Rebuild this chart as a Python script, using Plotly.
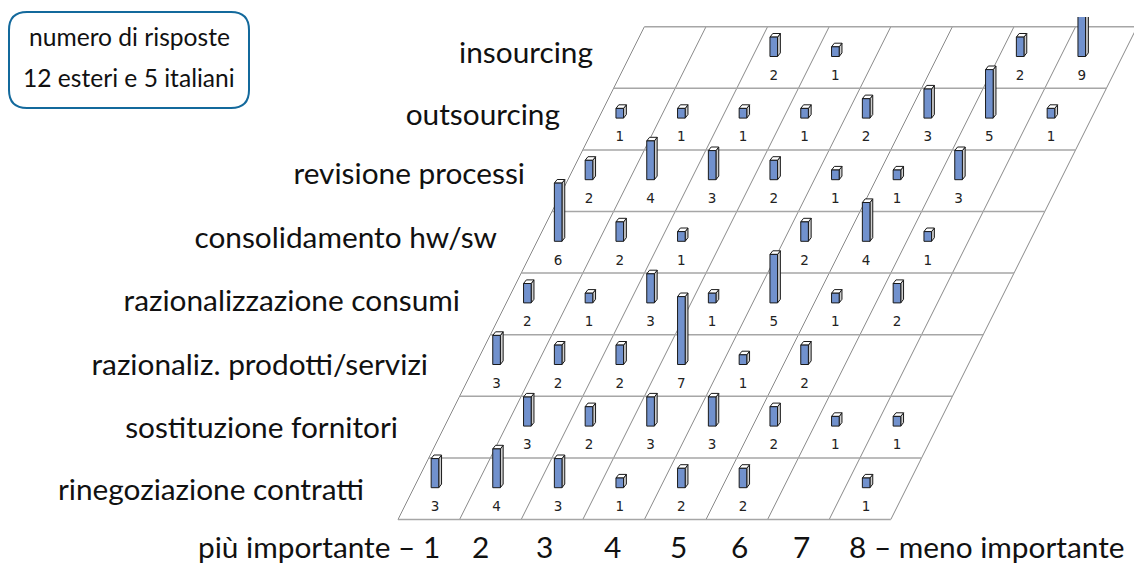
import plotly.graph_objects as go

categories = ["rinegoziazione contratti", "sostituzione fornitori", "razionaliz. prodotti/servizi",
              "razionalizzazione consumi", "consolidamento hw/sw", "revisione processi",
              "outsourcing", "insourcing"]
# risposte per riga (dal basso) e colonna 1..8
values = [
    [3, 4, 3, 1, 2, 2, None, 1],
    [None, 3, 2, 3, 3, 2, 1, 1],
    [3, 2, 2, 7, 1, 2, None, None],
    [2, 1, 3, 1, 5, 1, 2, None],
    [6, 2, 1, None, 2, 4, 1, None],
    [2, 4, 3, 2, 1, 1, 3, None],
    [1, 1, 1, 1, 2, 3, 5, 1],
    [None, None, 2, 1, None, None, 2, 9],
]
rank_labels = ["più importante – 1", "2", "3", "4", "5", "6", "7", "8 – meno importante"]
box_lines = ["numero di risposte", "12 esteri e 5 italiani"]

# geometria del pavimento, in pixel
X0, Y0 = 398.0, 519.5
COL_W, ROW_H, SKEW = 61.6, 61.6, 30.8
UNIT = 9.7
BAR_HW, DEPTH_X, DEPTH_Y = 3.8, 2.8, 3.6
W, H, TOP = 1134, 563, 17

CAT_RIGHT = [364, 398, 428, 460, 497, 525, 560, 593]
CAT_Y = [493, 431, 368, 304, 241, 177, 118, 56]
RANK_X = [196, 480, 544, 612, 678, 739, 801, 847]
RANK_ANCHOR = ["left", "center", "center", "center", "center", "center", "center", "left"]
LABEL_FONT = dict(family="Lato", size=29.8, color="#111111")


def corner(col, row):
    return X0 + col * COL_W + row * SKEW, Y0 - row * ROW_H


def bar_base(col, row):
    return X0 + (col + 0.6) * COL_W + row * SKEW, Y0 - (row + 0.5) * ROW_H - 1


def to_paper(py):
    return (H - py) / (H - TOP)


def rounded_box(x0, x1, y0, y1, rad):
    ry = rad / (H - TOP)
    t, b = to_paper(y0), to_paper(y1)
    return (f"M {x0 + rad},{t} L {x1 - rad},{t} Q {x1},{t} {x1},{t - ry} "
            f"L {x1},{b + ry} Q {x1},{b} {x1 - rad},{b} L {x0 + rad},{b} "
            f"Q {x0},{b} {x0},{b + ry} L {x0},{t - ry} Q {x0},{t} {x0 + rad},{t} Z")


fig = go.Figure()

# griglia
hx, hy, dx, dy = [], [], [], []
for r in range(len(values) + 1):
    a, b = corner(0, r), corner(8, r)
    hx += [a[0], b[0], None]
    hy += [a[1], b[1], None]
for c in range(9):
    a, b = corner(c, 0), corner(c, 8)
    dx += [a[0], b[0], None]
    dy += [a[1], b[1], None]
fig.add_trace(go.Scatter(x=dx, y=dy, mode="lines", line=dict(color="#8a8a8a", width=1)))
fig.add_trace(go.Scatter(x=hx, y=hy, mode="lines", line=dict(color="#a6a6a6", width=1.5)))

# barre, da dietro in avanti
fx, fy, tx, ty, sx, sy, lx, ly, lt = [], [], [], [], [], [], [], [], []
for r, row in enumerate(values):
    for c, v in enumerate(row):
        if v is None:
            continue
        bx, by = bar_base(c, r)
        top = by - v * UNIT
        l, rt = bx - BAR_HW, bx + BAR_HW
        fx += [l, rt, rt, l, l, None]
        fy += [by, by, top, top, by, None]
        tx += [l, rt, rt + DEPTH_X, l + DEPTH_X, l, None]
        ty += [top, top, top - DEPTH_Y, top - DEPTH_Y, top, None]
        sx += [rt, rt + DEPTH_X, rt + DEPTH_X, rt, rt, None]
        sy += [by, by - DEPTH_Y, top - DEPTH_Y, top, by, None]
        lx.append(bx)
        ly.append(by + 20)
        lt.append(str(v))

edge = dict(color="#1a1a1a", width=1)
fig.add_trace(go.Scatter(x=sx, y=sy, mode="lines", fill="toself", fillcolor="#cfcfcf", line=edge))
fig.add_trace(go.Scatter(x=tx, y=ty, mode="lines", fill="toself", fillcolor="#ffffff", line=edge))
fig.add_trace(go.Scatter(x=fx, y=fy, mode="lines", fill="toself", fillcolor="#7191cd", line=edge))
fig.add_trace(go.Scatter(x=lx, y=ly, mode="text", text=lt, textposition="middle center",
                         textfont=dict(family="DejaVu Sans", size=13.5, color="#222222")))

# etichette delle righe e del fondo
fig.add_trace(go.Scatter(x=CAT_RIGHT, y=CAT_Y, mode="text", text=categories, textposition="middle left",
                         textfont=LABEL_FONT))
for x, t, a in zip(RANK_X, rank_labels, RANK_ANCHOR):
    fig.add_annotation(x=x, y=546, text=t, showarrow=False, xanchor=a,
                       yanchor="middle", font=LABEL_FONT)

# riquadro in alto a sinistra
fig.add_shape(type="path", xref="x", yref="paper", path=rounded_box(9, 249, 12, 108, 18),
              line=dict(color="#13699c", width=2), fillcolor="white", layer="below")
for t, y in zip(box_lines, [36, 77]):
    fig.add_annotation(x=129, y=y, text=t, showarrow=False, font=dict(family="Lato", size=24.6, color="#111111"))

fig.update_layout(
    width=W, height=H, margin=dict(l=0, r=0, t=TOP, b=0),
    paper_bgcolor="white", plot_bgcolor="white", showlegend=False, hovermode=False,
    xaxis=dict(range=[0, W], visible=False, fixedrange=True),
    yaxis=dict(range=[H, TOP], visible=False, fixedrange=True),
)
fig.write_html("out.html", config=dict(displayModeBar=False), post_script="document.body.style.margin='0';")
